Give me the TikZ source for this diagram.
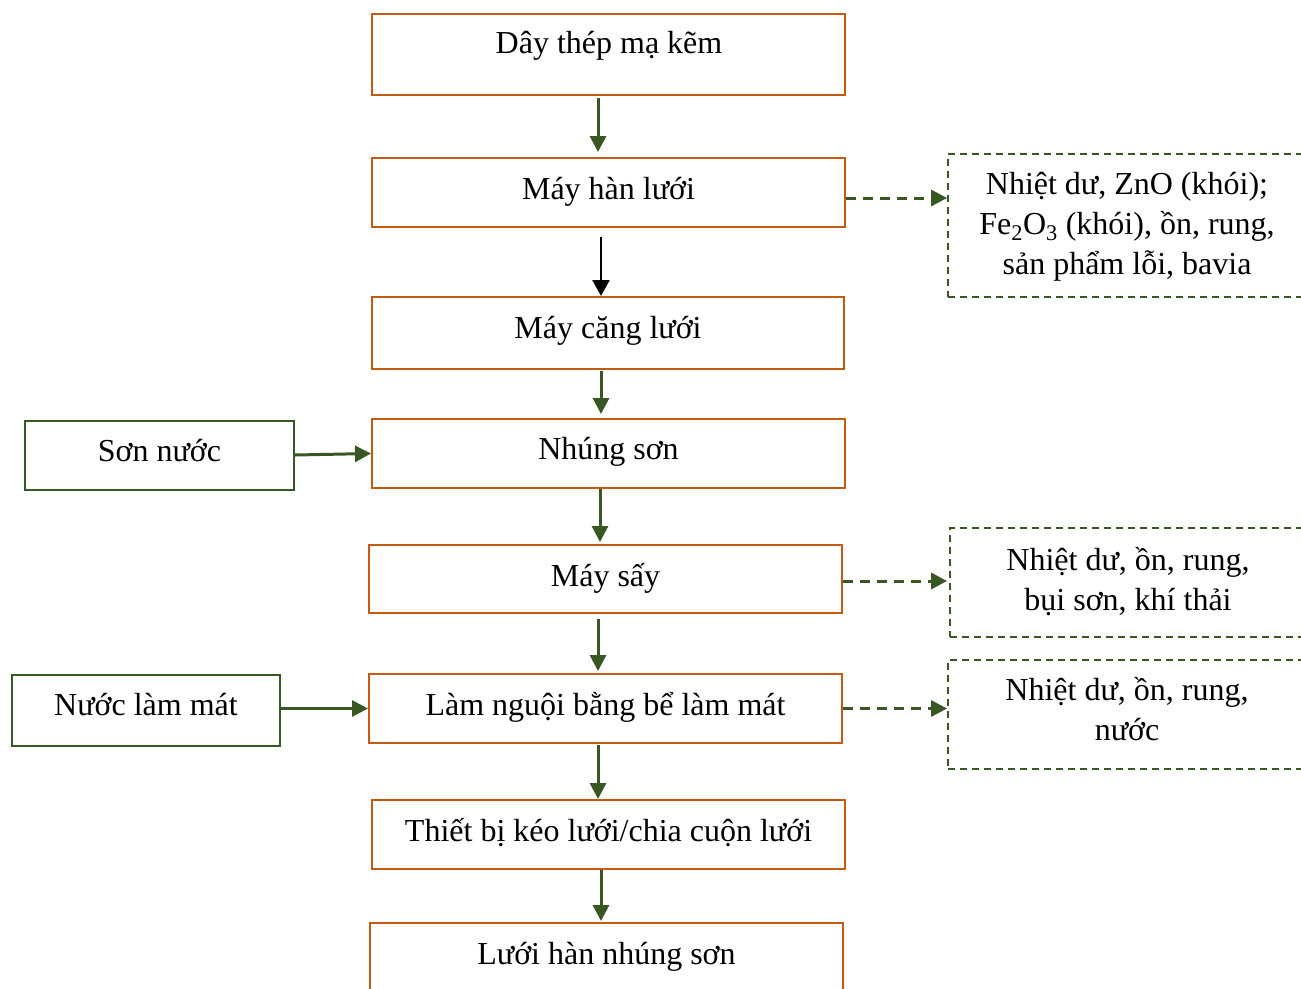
\documentclass[tikz,border=0pt]{standalone}
\usepackage{fontspec}
\setmainfont{Liberation Serif}
\usetikzlibrary{arrows.meta,calc}
\definecolor{rust}{HTML}{C55A11}
\definecolor{leaf}{HTML}{385723}
\tikzset{
  txt/.style={font=\fontsize{32}{40}\selectfont, inner sep=0pt, align=center},
  stepbox/.style={draw=rust, line width=2pt, fill=white, inner sep=0pt},
  inbox/.style={draw=leaf, line width=2pt, fill=white, inner sep=0pt},
  outbox/.style={draw=leaf, line width=1.8pt, dash pattern=on 7pt off 5pt, inner sep=0pt},
  flow/.style={draw=leaf, line width=3pt, -{Triangle[length=16pt,width=16pt]}},
  blackflow/.style={draw=black, line width=2.6pt, -{Triangle[length=16pt,width=17pt]}},
  dflow/.style={draw=leaf, line width=3pt, dash pattern=on 10pt off 7pt, -{Triangle[length=16pt,width=16pt]}},
}
\begin{document}
\begin{tikzpicture}[x=1pt,y=-1pt]
\useasboundingbox (0,0) rectangle (1301,988);
\clip (0,0) rectangle (1301,988);

% main process chain
\node[stepbox, minimum width=473pt, minimum height=81pt] (b1) at (608.5,54.5) {};
\node[stepbox, minimum width=473pt, minimum height=69pt] (b2) at (608.5,192.5) {};
\node[stepbox, minimum width=472pt, minimum height=72pt] (b3) at (608,333) {};
\node[stepbox, minimum width=473pt, minimum height=69pt] (b4) at (608.5,453.5) {};
\node[stepbox, minimum width=473pt, minimum height=68pt] (b5) at (605.5,579) {};
\node[stepbox, minimum width=473pt, minimum height=69pt] (b6) at (605.5,708.5) {};
\node[stepbox, minimum width=473pt, minimum height=69pt] (b7) at (608.5,834.5) {};
\node[stepbox, minimum width=473pt, minimum height=80pt] (b8) at (606.5,963) {};

\node[txt, anchor=base] (t1) at (609,53) {Dây thép mạ kẽm};
\node[txt, anchor=base] (t2) at (608.5,199) {Máy hàn lưới};
\node[txt, anchor=base] (t3) at (608,338) {Máy căng lưới};
\node[txt, anchor=base] (t4) at (608.5,459) {Nhúng sơn};
\node[txt, anchor=base] (t5) at (605.5,586) {Máy sấy};
\node[txt, anchor=base] (t6) at (605.5,715) {Làm nguội bằng bể làm mát};
\node[txt, anchor=base] (t7) at (608.5,841) {Thiết bị kéo lưới/chia cuộn lưới};
\node[txt, anchor=base] (t8) at (606.5,964) {Lưới hàn nhúng sơn};

% inputs
\node[inbox, minimum width=269pt, minimum height=69pt] (s1) at (159.5,455) {};
\node[txt, anchor=base] (ts1) at (159.5,461) {Sơn nước};
\node[inbox, minimum width=268pt, minimum height=71pt] (s2) at (146,710.5) {};
\node[txt, anchor=base] (ts2) at (146,715) {Nước làm mát};

% waste streams (base anchor = baseline of the last line)
\node[outbox, minimum width=358pt, minimum height=143pt] (r1) at (1127,225.5) {};
\node[txt, anchor=base] (tr1) at (1127,274) {Nhiệt dư, ZnO (khói);\\Fe\textsubscript{2}O\textsubscript{3} (khói), ồn, rung,\\sản phẩm lỗi, bavia};
\node[outbox, minimum width=356pt, minimum height=109pt] (r2) at (1128,582.5) {};
\node[txt, anchor=base] (tr2) at (1128,610) {Nhiệt dư, ồn, rung,\\bụi sơn, khí thải};
\node[outbox, minimum width=358pt, minimum height=109pt] (r3) at (1127,714.5) {};
\node[txt, anchor=base] (tr3) at (1127,740) {Nhiệt dư, ồn, rung,\\nước};

% vertical flow
\draw[flow, shorten <=2pt, shorten >=5pt] ($(b1.south)+(-10.5,0)$) -- ($(b2.north)+(-10.5,0)$);
\draw[blackflow, shorten <=9pt] ($(b2.south)+(-7.5,0)$) -- ($(b3.north)+(-7,0)$);
\draw[flow, shorten <=1pt, shorten >=4pt] ($(b3.south)+(-7,0)$) -- ($(b4.north)+(-7.5,0)$);
\draw[flow, shorten >=2pt] ($(b4.south)+(-8.5,0)$) -- ($(b5.north)+(-5.5,0)$);
\draw[flow, shorten <=5pt, shorten >=2pt] ($(b5.south)+(-7.5,0)$) -- ($(b6.north)+(-7.5,0)$);
\draw[flow, shorten <=1pt] ($(b6.south)+(-7.5,0)$) -- ($(b7.north)+(-10.5,0)$);
\draw[flow, shorten >=1pt] ($(b7.south)+(-7.5,0)$) -- ($(b8.north)+(-5.5,0)$);

% inputs into the chain
\draw[flow] (s1.east) -- (b4.west);
\draw[flow] (s2.east |- b6.west) -- (b6.west);

% emissions
\coordinate (e1) at ($(b2.east)+(0,5.5)$);
\draw[dflow] (e1) -- (e1 -| r1.west);
\coordinate (e2) at ($(b5.east)+(0,2)$);
\draw[dflow] (e2) -- (e2 -| r1.west);
\coordinate (e3) at ($(b6.east)+(0,0)$);
\draw[dflow] (e3) -- (e3 -| r3.west);
\end{tikzpicture}
\end{document}
